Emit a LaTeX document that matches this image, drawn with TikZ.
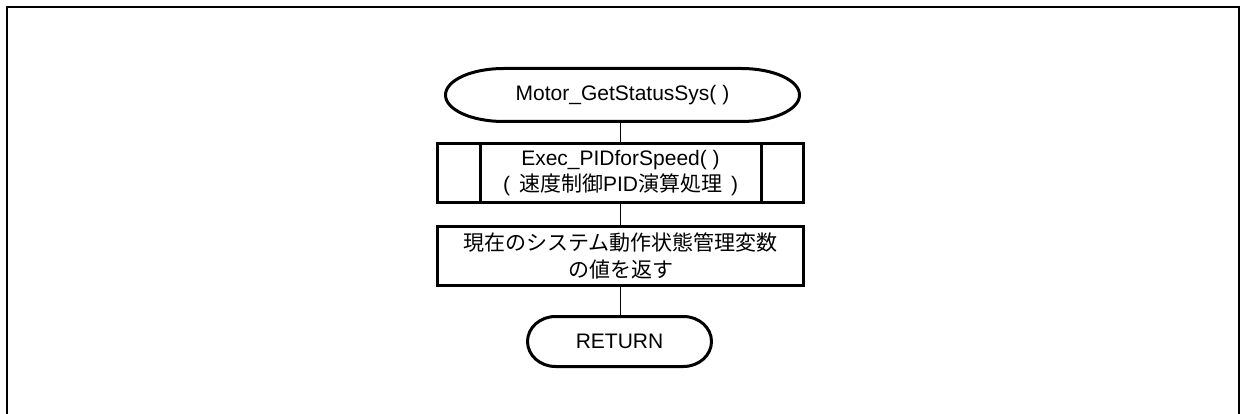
\documentclass[tikz,border=0pt]{standalone}
\usepackage{fontspec}
\setmainfont{Liberation Sans}
\newfontfamily\jp{Noto Sans CJK JP}
\newcommand\termoutline[3]{% node, x radius, y radius
  \draw[outl] ([xshift=#2]#1.north west) -- ([xshift=-#2]#1.north east)
    arc[start angle=90,end angle=-90,x radius=#2,y radius=#3]
    -- ([xshift=#2]#1.south west)
    arc[start angle=270,end angle=90,x radius=#2,y radius=#3] -- cycle;}
\begin{document}
\begin{tikzpicture}[x=1pt,y=-1pt,
  outl/.style={line width=3pt},
  conn/.style={line width=1.3pt},
  blk/.style={outl,draw,minimum width=366pt,minimum height=59pt,inner sep=0pt,outer sep=0pt,align=center,font=\fontsize{21}{26.5}\selectfont},
  term/.style={inner sep=0pt,outer sep=0pt,font=\fontsize{21}{26}\selectfont}]
\useasboundingbox (0,0) rectangle (1240,414);
\draw[line width=2pt] (7,414) -- (7,7) -- (1238.5,7) -- (1238.5,414);
% terminal: start
\node[term,minimum width=354pt,minimum height=53pt] (start) at (622.5,95) {Motor\_GetStatusSys( )};
\termoutline{start}{58pt}{26.5pt}
% predefined process
\node[blk] (pid) at (620.5,173) {Exec\_PIDforSpeed( )\\(\kern9pt{\jp 速度制御}PID{\jp 演算処理}\kern9pt)};
\draw[outl] ([xshift=43pt]pid.north west) -- ([xshift=43pt]pid.south west)
  ([xshift=-42pt]pid.north east) -- ([xshift=-42pt]pid.south east);
% process
\node[blk,font=\jp\fontsize{21}{26.5}\selectfont] (val) at (620.5,256) {現在のシステム動作状態管理変数\\の値を返す};
% terminal: return
\node[term,minimum width=184pt,minimum height=50pt] (rtn) at (619.5,341.5) {RETURN};
\termoutline{rtn}{28pt}{25pt}
% connectors
\draw[conn] (start.south -| pid.north) -- (pid.north);
\draw[conn] (pid) -- (val);
\draw[conn] (val.south) -- (val.south |- rtn.north);
\end{tikzpicture}
\end{document}
